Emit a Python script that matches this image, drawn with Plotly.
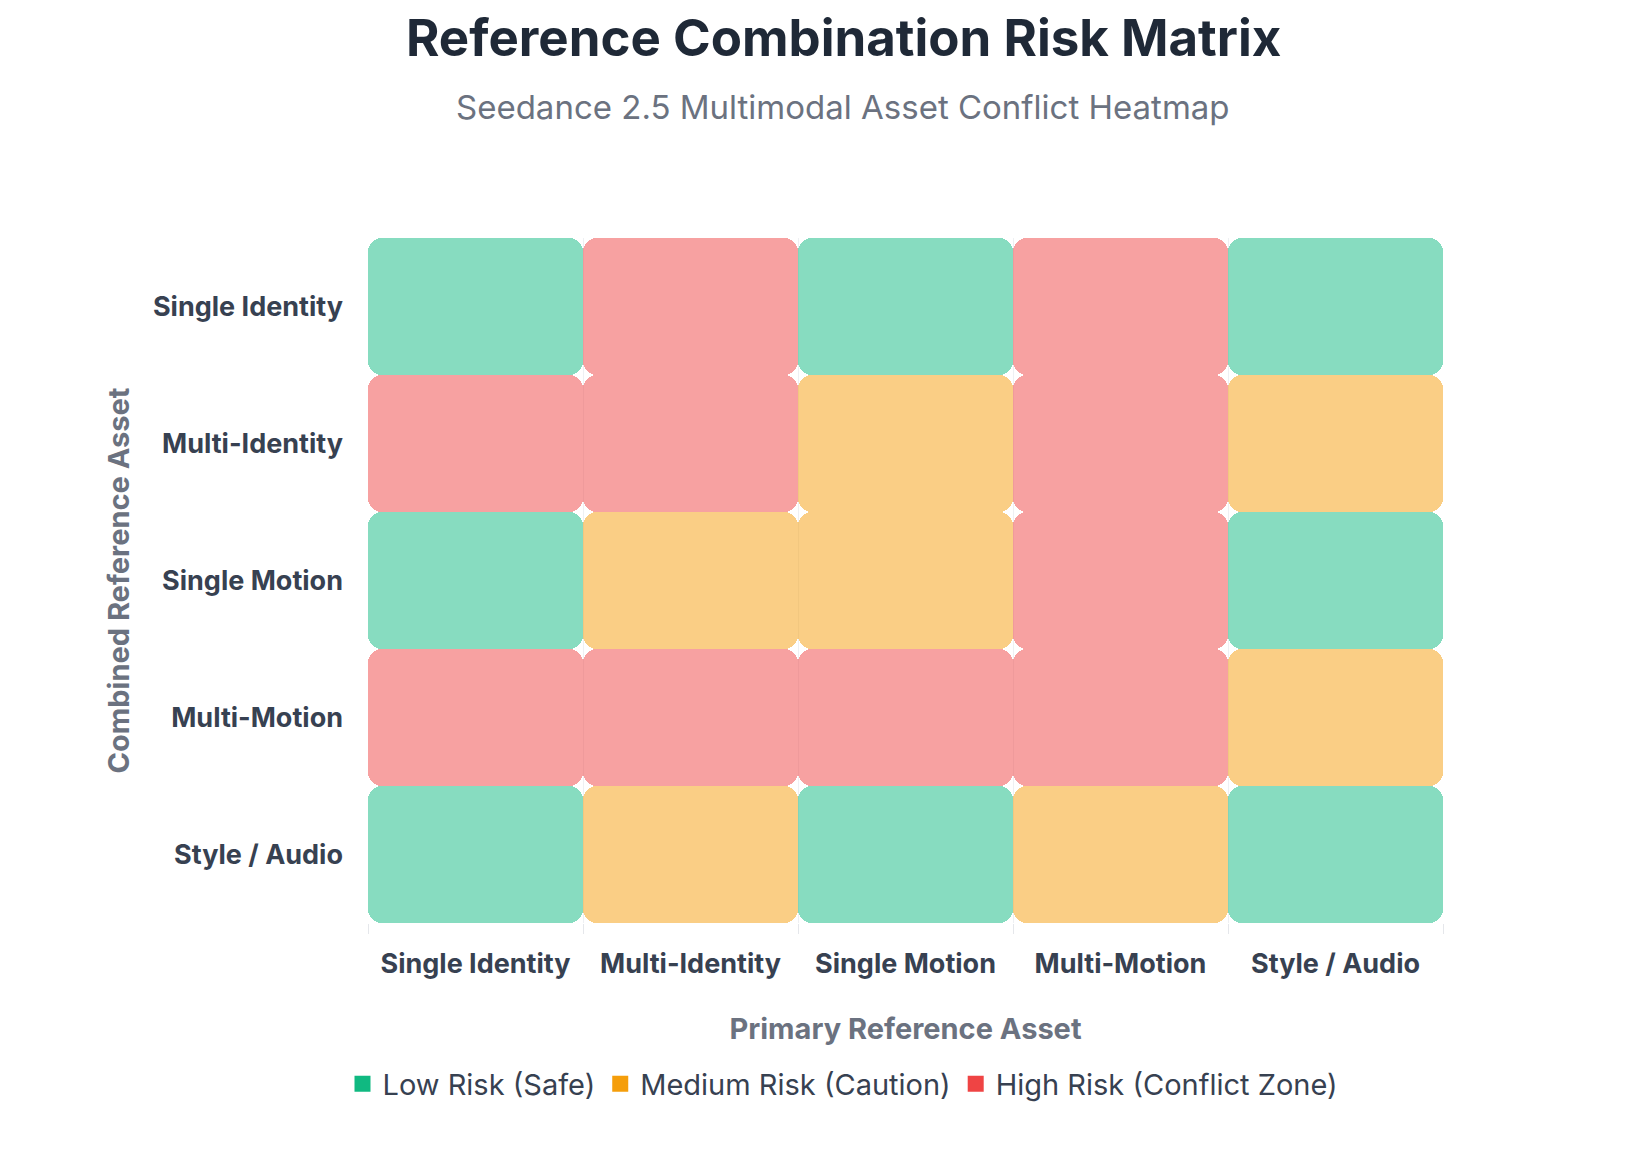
import plotly.graph_objects as go

# 数据
primary_assets = ["Single Identity", "Multi-Identity", "Single Motion", "Multi-Motion", "Style / Audio"]
combined_assets = ["Single Identity", "Multi-Identity", "Single Motion", "Multi-Motion", "Style / Audio"]

# 0 = low, 1 = medium, 2 = high ; rows = combined, cols = primary
risk_matrix = [
    [0, 2, 0, 2, 0],
    [2, 2, 1, 2, 1],
    [0, 1, 1, 2, 0],
    [2, 2, 2, 2, 1],
    [0, 1, 0, 1, 0],
]

risk_names = ["Low Risk (Safe)", "Medium Risk (Caution)", "High Risk (Conflict Zone)"]
risk_solid = ["#10B981", "#F59E0B", "#EF4444"]
risk_fill = ["rgba(16,185,129,0.5)", "rgba(245,158,11,0.5)", "rgba(239,68,68,0.5)"]

W, H = 1640, 1162
L, R, T, B = 360, 205, 230, 247


def main() -> None:
    fig = go.Figure()

    # one bar per cell, spanning its row
    for level in range(3):
        xs, bases, ys, texts = [], [], [], []
        for r, row in enumerate(risk_matrix):
            for c, v in enumerate(row):
                if v != level:
                    continue
                xs.append(primary_assets[c])
                bases.append(r - 0.5)
                ys.append(1)
                texts.append(f"{primary_assets[c]} + {combined_assets[r]}")
        fig.add_trace(
            go.Bar(
                x=xs,
                y=ys,
                base=bases,
                marker=dict(color=risk_fill[level], cornerradius=14, line=dict(width=0)),
                hovertext=texts,
                hovertemplate="%{hovertext}<br>" + risk_names[level] + "<extra></extra>",
                showlegend=False,
            )
        )

    # legend entries (solid squares)
    for level in range(3):
        fig.add_trace(
            go.Scatter(
                x=[None],
                y=[None],
                mode="markers",
                name=risk_names[level],
                marker=dict(symbol="square", size=26, color=risk_solid[level]),
            )
        )

    ph = H - T - B
    pw = W - L - R
    cx = (835 - L) / pw
    fig.add_annotation(
        text="<b>Reference Combination Risk Matrix</b>",
        xref="paper", yref="paper", x=cx, y=(H - B - 30) / ph,
        xanchor="center", yanchor="middle", showarrow=False,
        font=dict(size=51, color="#1f2937"),
    )
    fig.add_annotation(
        text="Seedance 2.5 Multimodal Asset Conflict Heatmap",
        xref="paper", yref="paper", x=cx, y=(H - B - 99) / ph,
        xanchor="center", yanchor="middle", showarrow=False,
        font=dict(size=33, color="#6b7280"),
    )

    fig.update_layout(
        width=W,
        height=H,
        barmode="overlay",
        bargap=0,
        plot_bgcolor="white",
        paper_bgcolor="white",
        font=dict(family="Inter, Noto Sans, sans-serif", color="#374151"),
        margin=dict(l=L, r=R, t=T, b=B),
        showlegend=True,
        legend=dict(
            orientation="h",
            xref="container", yref="container",
            x=835 / W, y=(H - 1076) / H,
            xanchor="center", yanchor="middle",
            font=dict(size=29, color="#374151"),
        ),
        xaxis=dict(
            type="category",
            categoryorder="array",
            categoryarray=primary_assets,
            range=[-0.5, 4.5],
            tickson="boundaries",
            ticks="outside",
            ticklen=10,
            tickcolor="#e5e7eb",
            showgrid=True,
            gridcolor="#eef0f3",
            zeroline=False,
            showline=False,
            ticklabelstandoff=22,
            tickfont=dict(size=27, color="#374151", weight="bold"),
            title=dict(
                text="<b>Primary Reference Asset</b>",
                font=dict(size=29, color="#6b7280"),
                standoff=39,
            ),
            fixedrange=True,
        ),
        yaxis=dict(
            range=[4.5, -0.5],
            tickmode="array",
            tickvals=list(range(len(combined_assets))),
            ticktext=combined_assets,
            showgrid=False,
            zeroline=False,
            showline=False,
            ticks="",
            ticklabelstandoff=24,
            tickfont=dict(size=27, color="#374151", weight="bold"),
            title=dict(
                text="<b>Combined Reference Asset</b>",
                font=dict(size=29, color="#6b7280"),
                standoff=14,
            ),
            fixedrange=True,
        ),
    )

    fig.write_html("out.html")


if __name__ == "__main__":
    main()
